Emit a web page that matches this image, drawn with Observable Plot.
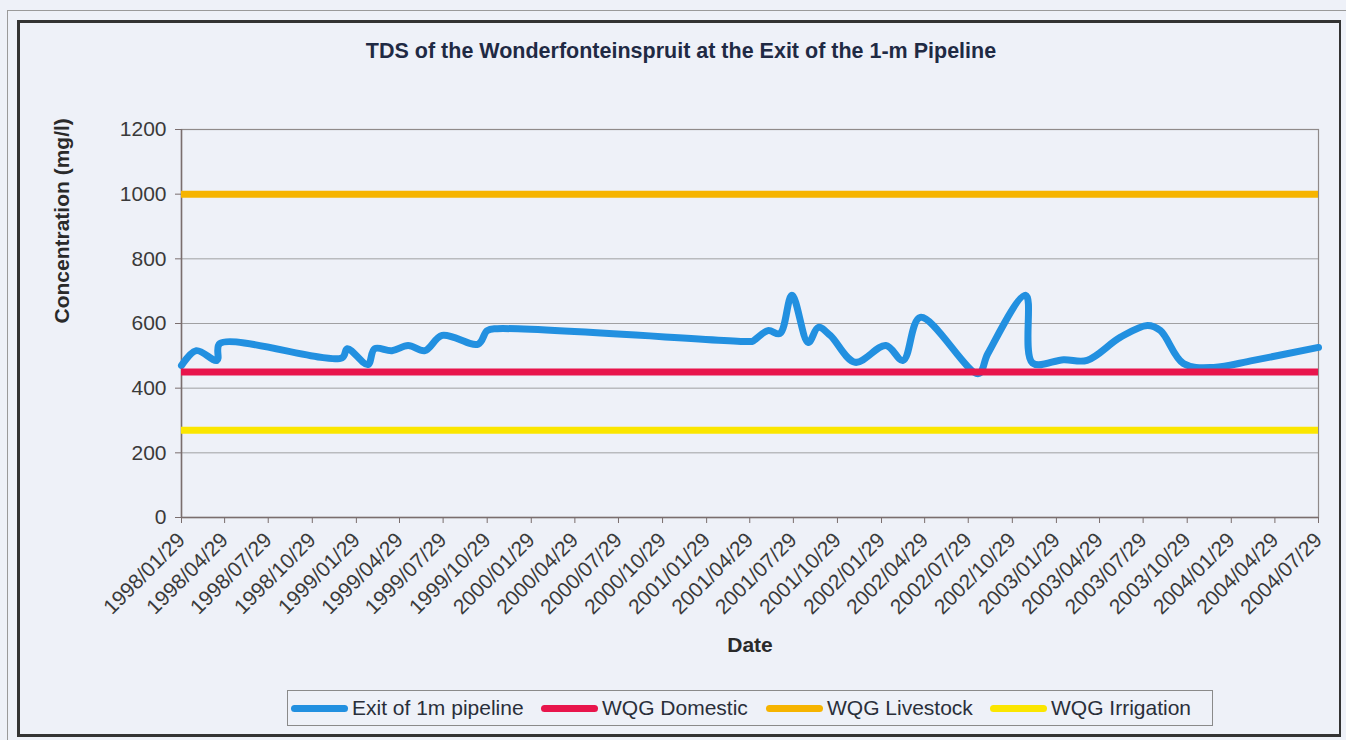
<!DOCTYPE html>
<html>
<head>
<meta charset="utf-8">
<script src="https://cdn.jsdelivr.net/npm/d3@7"></script>
<script src="https://cdn.jsdelivr.net/npm/@observablehq/plot@0.6"></script>
<style>
  html, body { margin: 0; padding: 0; background: #eef1f8; }
  #wrap { position: relative; width: 1346px; height: 740px; overflow: hidden; background: #eef1f8; font-family: "Liberation Sans", Arial, sans-serif; }
  #outer { position: absolute; left: 7px; top: 10px; width: 1345px; height: 735px; border: 1px solid #9a9a9a; box-sizing: border-box; }
  #frame { position: absolute; left: 17px; top: 20px; width: 1324px; height: 717px; border: 3px solid #333; border-right-width: 2px; box-sizing: border-box; }
  #title { position: absolute; left: 0; width: 1362px; top: 39px; text-align: center; font-size: 21.5px; font-weight: bold; color: #1f2a44; }
  #chart { position: absolute; left: 0; top: 0; }
  #legend { position: absolute; left: 287px; top: 690px; width: 926px; height: 36px; border: 1px solid #8a8a8a; box-sizing: border-box; font-size: 21px; color: #2a2f3a; }
  .item { position: absolute; top: 0; height: 34px; display: flex; align-items: center; white-space: nowrap; }
  .sw { width: 57px; height: 7px; border-radius: 4px; margin-right: 4px; }
</style>
</head>
<body>
<div id="wrap">
  <div id="outer"></div>
  <div id="frame"></div>
  <div id="chart"></div>
  <div id="title"></div>
  <div id="legend"></div>
</div>
<script>
// ---- data ----
const titleText = "TDS of the Wonderfonteinspruit at the Exit of the 1-m Pipeline";
const yLabel = "Concentration (mg/l)";
const xLabel = "Date";

const sampleDates = ["1998/01/29","1998/03/01","1998/04/13","1998/04/19","1998/12/30","1999/01/10","1999/02/22","1999/03/08","1999/04/13","1999/05/17","1999/06/21","1999/07/27","1999/10/10","1999/10/29","1999/11/19","2001/04/30","2001/05/05","2001/06/06","2001/07/01","2001/07/26","2001/08/29","2001/09/19","2001/10/14","2001/12/05","2002/02/07","2002/03/15","2002/04/20","2002/08/19","2002/09/08","2002/11/26","2002/12/10","2003/02/13","2003/04/03","2003/06/11","2003/08/07","2003/09/03","2003/10/21","2003/12/23","2004/03/15","2004/07/29"];
const exitValues = [470,516,486,538,494,522,473,522,516,532,516,563,536,578,584,544,545,578,569,687,541,588,563,480,532,486,619,445,507,687,478,488,486,557,594,578,476,464,486,526];

const guidelineNames = ["WQG Domestic","WQG Livestock","WQG Irrigation"];
const guidelineValues = [450, 1000, 270];

const seriesNames = ["Exit of 1m pipeline","WQG Domestic","WQG Livestock","WQG Irrigation"];
const seriesColors = ["#2290e0","#e8154c","#f6b400","#fbe600"];

const xTickLabels = ["1998/01/29","1998/04/29","1998/07/29","1998/10/29","1999/01/29","1999/04/29","1999/07/29","1999/10/29","2000/01/29","2000/04/29","2000/07/29","2000/10/29","2001/01/29","2001/04/29","2001/07/29","2001/10/29","2002/01/29","2002/04/29","2002/07/29","2002/10/29","2003/01/29","2003/04/29","2003/07/29","2003/10/29","2004/01/29","2004/04/29","2004/07/29"];
const yTicks = [0,200,400,600,800,1000,1200];

// ---- build ----
const parse = d3.utcParse("%Y/%m/%d");
const fmt = d3.utcFormat("%Y/%m/%d");
const exitData = sampleDates.map((d, i) => ({date: parse(d), value: exitValues[i]}));
const guides = guidelineNames.map((n, i) => ({name: n, value: guidelineValues[i], color: seriesColors[i + 1]}));
const xTicks = xTickLabels.map(parse);

const font = "Liberation Sans, Arial, sans-serif";

const chart = Plot.plot({
  width: 1346,
  height: 740,
  marginLeft: 181,
  marginRight: 28,
  marginTop: 129,
  marginBottom: 223,
  style: {background: "transparent", fontFamily: font, fontSize: "21px", color: "#333"},
  x: {type: "utc", domain: [xTicks[0], xTicks[xTicks.length - 1]]},
  y: {domain: [0, 1200]},
  marks: [
    Plot.gridY(yTicks, {stroke: "#8c8c8c", strokeOpacity: 0.8, strokeWidth: 1}),
    Plot.frame({stroke: "#8f8a8a", strokeWidth: 1.2}),
    Plot.axisY(yTicks, {tickSize: 6, tickPadding: 9, tickFormat: d3.format("d"), stroke: "#7a6e6e", fill: "#3a3a3a", fontSize: 21, label: null}),
    Plot.axisX(xTicks, {tickSize: 6, tickPadding: 13, tickRotate: -45, tickFormat: fmt, stroke: "#7a6e6e", fill: "#3a3a3a", fontSize: 21, label: null}),
    Plot.ruleX([xTicks[0]], {stroke: "#7a6e6e", strokeWidth: 1.5}),
    Plot.ruleY([0], {stroke: "#7a6e6e", strokeWidth: 1.5}),
    Plot.line(exitData, {x: "date", y: "value", stroke: seriesColors[0], strokeWidth: 7, curve: "catmull-rom", strokeLinejoin: "round", strokeLinecap: "round"}),
    Plot.ruleY(guides, {y: "value", stroke: "color", strokeWidth: 7}),
    Plot.text([yLabel], {frameAnchor: "left", dx: -119, rotate: -90, fontWeight: "bold", fontSize: 21, fill: "#2a2a2a"}),
    Plot.text([xLabel], {frameAnchor: "bottom", dy: 134, fontWeight: "bold", fontSize: 21, fill: "#2a2a2a"})
  ]
});
document.getElementById("chart").appendChild(chart);
document.getElementById("title").textContent = titleText;

const legend = document.getElementById("legend");
const itemLeft = [3, 253, 478, 702];
seriesNames.forEach((n, i) => {
  const it = document.createElement("div");
  it.className = "item";
  it.style.left = itemLeft[i] + "px";
  const sw = document.createElement("div");
  sw.className = "sw";
  sw.style.background = seriesColors[i];
  const t = document.createElement("span");
  t.textContent = n;
  it.appendChild(sw); it.appendChild(t);
  legend.appendChild(it);
});
</script>
</body>
</html>
